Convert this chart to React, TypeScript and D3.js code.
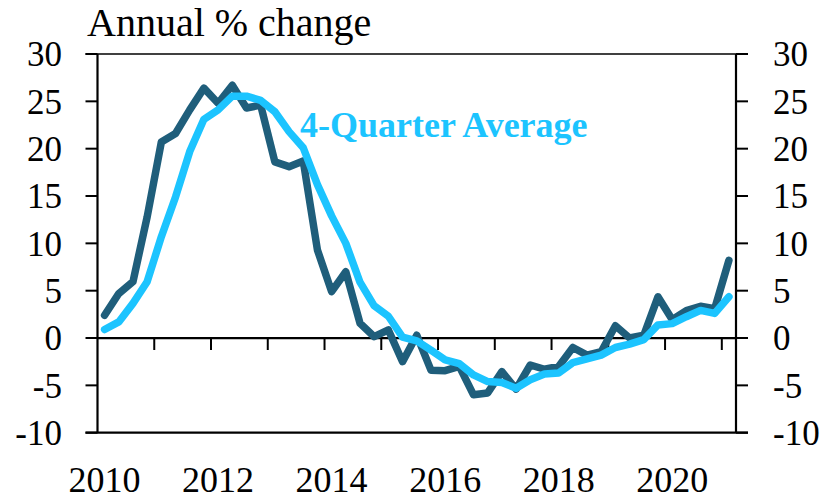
import React from "react";
import * as d3 from "d3";

const quarters: string[] = [];
for (let y = 2010; y <= 2020; y++) for (let q = 1; q <= 4; q++) quarters.push(`${y}Q${q}`);
quarters.push("2021Q1");

const annualChange = [
  2.4, 4.7, 5.95, 12.8, 20.7, 21.6, 24.1, 26.4, 24.8, 26.7, 24.3, 24.6,
  18.6, 18.1, 18.7, 9.3, 4.9, 7.0, 1.55, 0.14, 0.85, -2.5, 0.3, -3.4,
  -3.45, -3.0, -6.0, -5.8, -3.55, -5.4, -2.85, -3.3, -3.0, -1.0, -1.8, -1.45,
  1.3, 0.0, 0.3, 4.35, 1.95, 2.9, 3.35, 3.1, 8.2,
];
const fourQuarterAvg = [
  0.9, 1.7, 3.66, 5.95, 10.7, 14.9, 19.7, 23.1, 24.1, 25.55, 25.55, 25.1,
  23.9, 21.8, 20.1, 16.2, 12.9, 10.0, 5.9, 3.4, 2.3, 0.1, -0.3, -1.27,
  -2.3, -2.7, -3.9, -4.6, -4.7, -5.3, -4.4, -3.8, -3.7, -2.6, -2.2, -1.8,
  -1.0, -0.65, -0.17, 1.38, 1.52, 2.25, 2.92, 2.6, 4.36,
];
const yTicks = [-10, -5, 0, 5, 10, 15, 20, 25, 30];
const xLabelYears = ["2010", "2012", "2014", "2016", "2018", "2020"];

const W = 827;
const H = 499;
const left = 97.5;
const right = 736;
const top = 54;
const bottom = 432.7;
const FONT = "'Liberation Serif', 'Times New Roman', serif";

export default function App() {
  const x = d3.scaleBand<string>().domain(quarters).range([left, right]).padding(0);
  const y = d3.scaleLinear().domain([-10, 30]).range([bottom, top]);
  const cx = (i: number) => (x(quarters[i]) as number) + x.bandwidth() / 2;
  const line = d3
    .line<number>()
    .x((_, i) => cx(i))
    .y((d) => y(d));
  const y0 = y(0);
  const tickLen = 12;
  const boundaries = quarters
    .map((q, i) => ({ q, i }))
    .filter((d) => d.i % 4 === 0 && d.i > 0)
    .map((d) => x(d.q) as number);

  return (
    <svg
      width={W}
      height={H}
      style={{ position: "absolute", left: 0, top: 0, background: "#fff" }}
      fontFamily={FONT}
    >
      {/* frame */}
      <line x1={left} x2={left} y1={top} y2={bottom} stroke="#000" strokeWidth={2.2} />
      <line x1={right} x2={right} y1={top} y2={bottom} stroke="#000" strokeWidth={2.2} />
      <line x1={left - tickLen} x2={right + tickLen} y1={top} y2={top} stroke="#000" strokeWidth={1.6} />
      <line x1={left - tickLen} x2={right + tickLen} y1={bottom} y2={bottom} stroke="#000" strokeWidth={2.2} />
      {/* y ticks */}
      {yTicks.map((t) => (
        <g key={t}>
          <line x1={left - tickLen} x2={left} y1={y(t)} y2={y(t)} stroke="#000" strokeWidth={2} />
          <line x1={right} x2={right + tickLen} y1={y(t)} y2={y(t)} stroke="#000" strokeWidth={2} />
          <text x={62} y={y(t)} dy="0.35em" textAnchor="end" fontSize={35} fill="#000">
            {t}
          </text>
          <text x={773} y={y(t)} dy="0.35em" textAnchor="start" fontSize={35} fill="#000">
            {t}
          </text>
        </g>
      ))}
      {/* zero axis */}
      <line x1={left} x2={right} y1={y0} y2={y0} stroke="#000" strokeWidth={2.2} />
      {boundaries.map((bx, i) => (
        <line key={i} x1={bx} x2={bx} y1={y0} y2={y0 + tickLen} stroke="#000" strokeWidth={2} />
      ))}
      {/* x labels */}
      {xLabelYears.map((yr) => (
        <text key={yr} x={cx(quarters.indexOf(`${yr}Q1`))} y={492} textAnchor="middle" fontSize={36} fill="#000">
          {yr}
        </text>
      ))}
      {/* lines */}
      <path d={line(annualChange) || ""} fill="none" stroke="#1F5E7B" strokeWidth={7.5} strokeLinejoin="round" strokeLinecap="round" />
      <path d={line(fourQuarterAvg) || ""} fill="none" stroke="#1CC4FF" strokeWidth={7.5} strokeLinejoin="round" strokeLinecap="round" />
      {/* annotations */}
      <text x={87} y={36} fontSize={40} fill="#000">
        Annual % change
      </text>
      <text x={300} y={137} fontSize={36} fontWeight="bold" fill="#1CC4FF">
        4-Quarter Average
      </text>
    </svg>
  );
}
